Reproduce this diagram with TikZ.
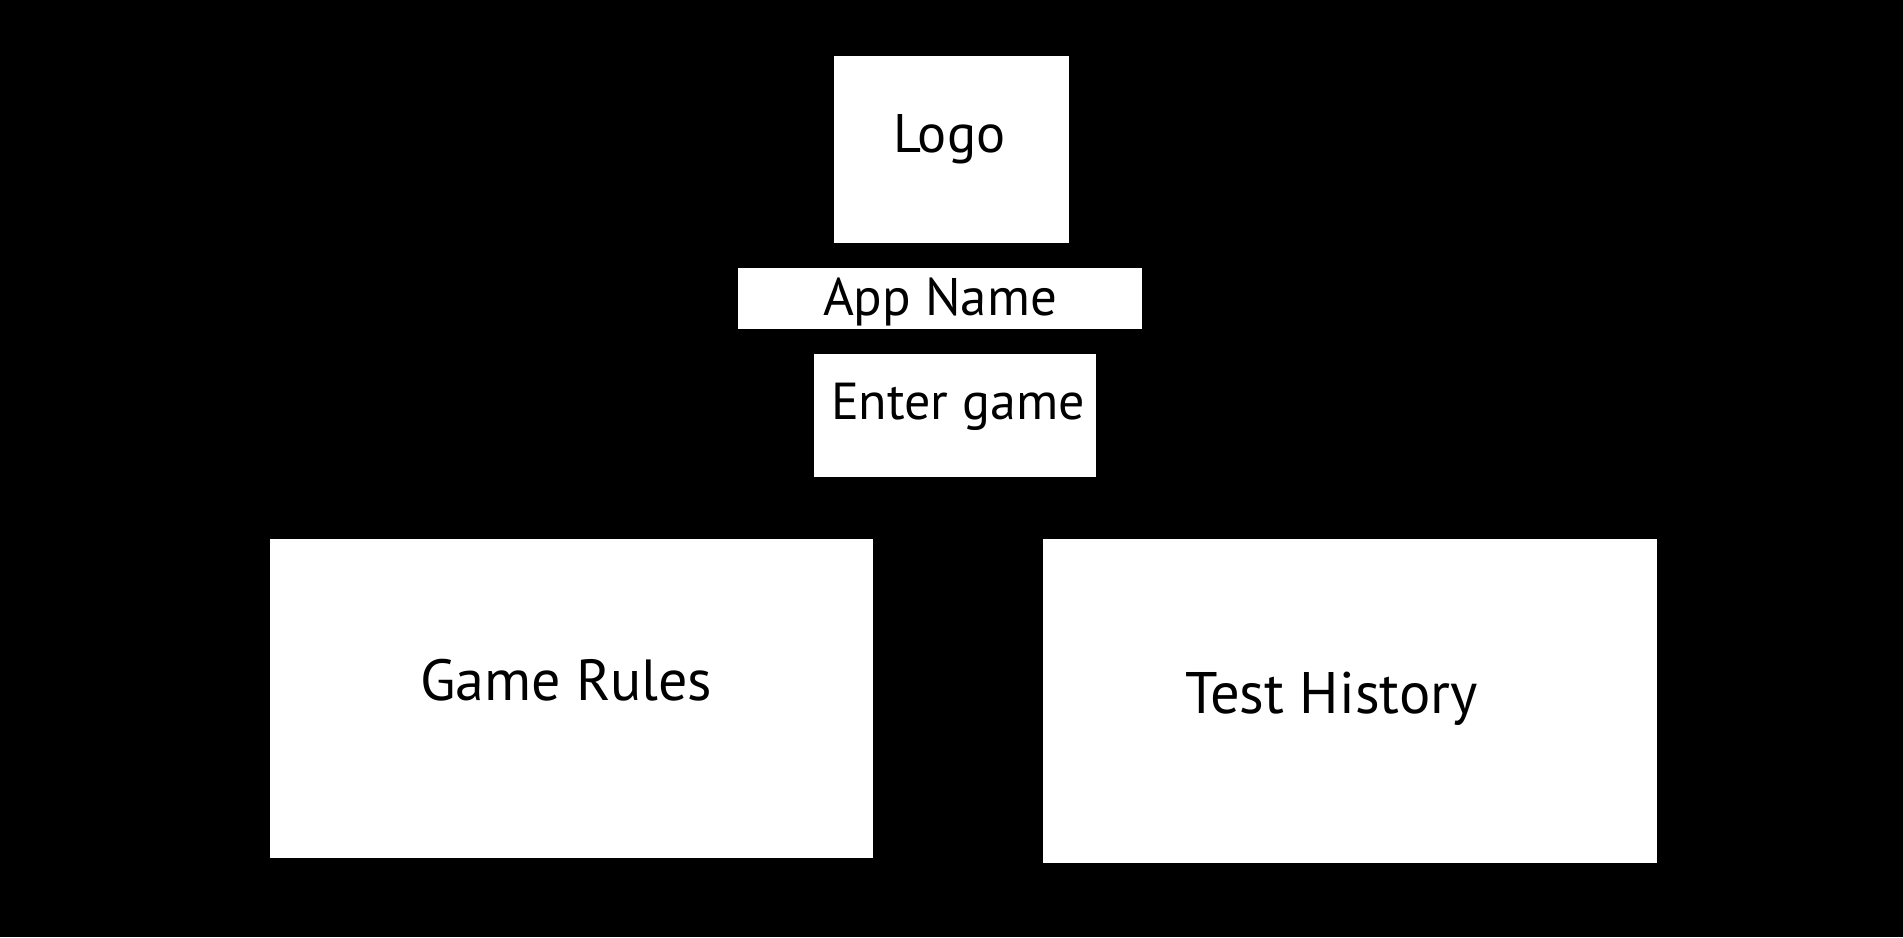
\documentclass[tikz,border=0pt]{standalone}
\usepackage{fontspec}
\setmainfont{PT Sans}
\begin{document}
\begin{tikzpicture}[x=1pt,y=-1pt,
  panel/.style={fill=white,draw=none,inner sep=0pt,outer sep=0pt,anchor=north west},
  lbl/.style={inner sep=0pt,outer sep=0pt,anchor=base west,text=black}]
\fill[black] (0,0) rectangle (1903,937);
\useasboundingbox (0,0) rectangle (1903,937);
% boxes
\node[panel,minimum width=235pt,minimum height=187pt] (logo) at (834,56) {};
\node[panel,minimum width=404pt,minimum height=61pt] (appname) at (738,268) {};
\node[panel,minimum width=282pt,minimum height=123pt] (enter) at (814,354) {};
\node[panel,minimum width=603pt,minimum height=319pt] (rules) at (270,539) {};
\node[panel,minimum width=614pt,minimum height=324pt] (history) at (1043,539) {};
% labels
\node[lbl,font=\fontsize{54.3}{60}\selectfont] (logot) at (893,152.7) {Logo};
\node[lbl,font=\fontsize{52.9}{60}\selectfont] (appt) at (823,315) {App Name};
\node[lbl,font=\fontsize{52}{58}\selectfont] (entert) at (831,419) {Enter game};
\node[lbl,font=\fontsize{58}{64}\selectfont] (rulest) at (420,700) {Game Rules};
\node[lbl,font=\fontsize{58.6}{64}\selectfont] (historyt) at (1185,713) {Test History};
\end{tikzpicture}
\end{document}
